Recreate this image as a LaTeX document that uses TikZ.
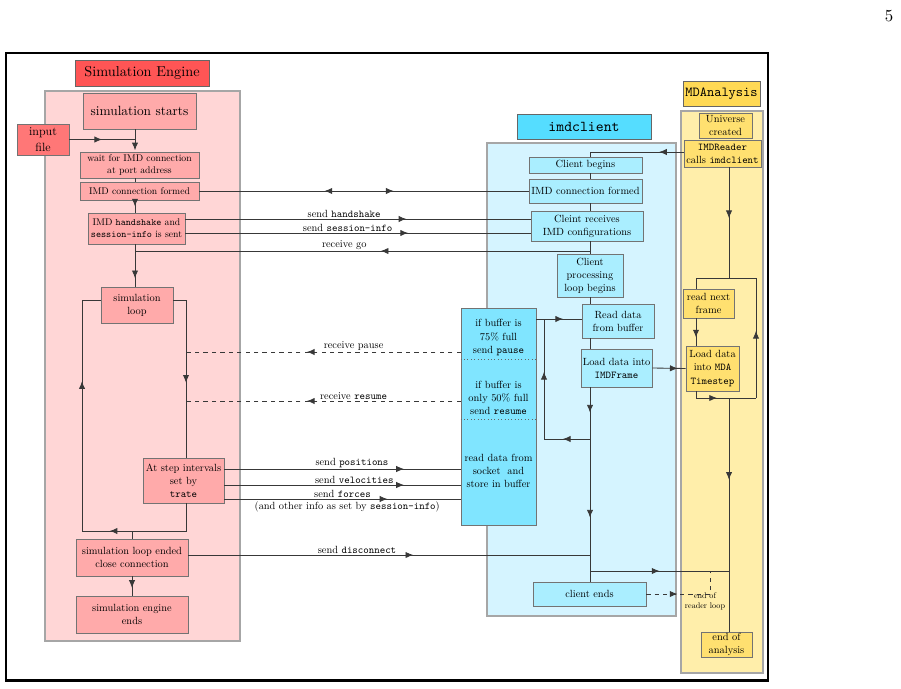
\documentclass[tikz,border=0pt]{standalone}
\usepackage{fontspec}
\setmainfont{lmroman10-regular.otf}[ItalicFont=lmroman10-italic.otf, BoldFont=lmroman10-bold.otf]
\setmonofont{lmmono10-regular.otf}
\usepackage{xcolor}
\usepackage{tikz}
\usetikzlibrary{arrows.meta, positioning, calc, decorations.markings}
\definecolor{simred}{RGB}{255, 85, 85}
\definecolor{simlight}{RGB}{255, 214, 214}
\definecolor{simpink}{RGB}{255, 170, 170}
\definecolor{inputred}{RGB}{255, 119, 119}
\definecolor{imdcyan}{RGB}{85, 221, 255}
\definecolor{imdlight}{RGB}{213, 244, 255}
\definecolor{imdpale}{RGB}{170, 238, 255}
\definecolor{bufcyan}{RGB}{128, 229, 255}
\definecolor{mdagold}{RGB}{255, 217, 85}
\definecolor{mdalight}{RGB}{255, 238, 170}
\definecolor{mdapale}{RGB}{255, 224, 112}
\newcommand{\nodefont}{\fontsize{7.4}{9.3}\selectfont}
\newcommand{\smallnodefont}{\fontsize{6.9}{8.5}\selectfont}

\begin{document}
\begin{tikzpicture}[x=0.25mm, y=-0.25mm,
    flowtip/.tip={Latex[length=5.5pt, width=4.5pt]},
    lane/.style={draw=black!35, line width=0.8pt, inner sep=0pt},
    head/.style={draw=black!60, inner sep=0pt, font=\fontsize{10.2}{12}\selectfont},
    simbox/.style={draw=black!55, fill=simpink, align=center, inner sep=0.5pt, font=\nodefont},
    imdbox/.style={draw=black!55, fill=imdpale, align=center, inner sep=0.5pt, font=\nodefont},
    mdabox/.style={draw=black!55, fill=mdapale, align=center, inner sep=0.5pt, font=\nodefont},
    buftext/.style={align=center, inner sep=0pt, font=\nodefont},
    lbl/.style={inner sep=0.7pt, font=\nodefont},
    flow/.style={draw=black!78, line width=0.6pt},
    midtip/.style={postaction={decorate}, decoration={markings,
        mark=at position #1 with {\pgfsetdash{}{0pt}\arrow{flowtip}}}},
    midtip/.default=0.5
]
    \useasboundingbox (0,0) rectangle (901,688);

    % lanes and headers
    \node[lane, fill=simlight, minimum width=48.75mm, minimum height=137.5mm] (simlane) at (142.5,366) {};
    \node[lane, fill=imdlight, minimum width=47.25mm, minimum height=118.25mm] (imdlane) at (581.5,379.5) {};
    \node[lane, fill=mdalight, minimum width=20.5mm, minimum height=140.5mm] (mdalane) at (722,392) {};

    \node[head, fill=simred, minimum width=33.5mm, minimum height=6.5mm] (simhead) at (142,73) {Simulation Engine};
    \node[head, fill=imdcyan, minimum width=33.5mm, minimum height=6.25mm,
          font=\fontsize{10.7}{12}\selectfont\ttfamily] (imdhead) at (584,126.5) {imdclient};
    \node[head, fill=mdagold, minimum width=19.25mm, minimum height=6.25mm,
          font=\fontsize{9.8}{12}\selectfont\ttfamily] (mdahead) at (721.5,93.5) {MDAnalysis};

    % simulation engine
    \node[simbox, minimum width=28.25mm, minimum height=9mm, font=\fontsize{9.5}{11}\selectfont] (start) at (139.5,111) {simulation starts};
    \node[simbox, fill=inputred, minimum width=13mm, minimum height=7.75mm,
          font=\fontsize{8.5}{11.4}\selectfont] (input) at (43,139.5) {input\\file};
    \node[simbox, minimum width=29.75mm, minimum height=6.5mm, font=\smallnodefont] (wait) at (139.5,165) {wait for IMD connection\\at port address};
    \node[simbox, minimum width=29.75mm, minimum height=4.5mm, font=\smallnodefont] (simconn) at (139.5,191) {IMD connection formed};
    \node[simbox, minimum width=24.25mm, minimum height=7.75mm, font=\smallnodefont] (handshake) at (136.5,228.5) {IMD \texttt{handshake} and\\\texttt{session-info} is sent};
    \node[simbox, minimum width=18mm, minimum height=9mm] (simloop) at (137,305) {simulation\\loop};
    \node[simbox, minimum width=20.25mm, minimum height=11.25mm] (stepint) at (183.5,480.5) {At step intervals\\set by\\\texttt{trate}};
    \node[simbox, minimum width=28mm, minimum height=9.25mm] (loopend) at (132,557.5) {simulation loop ended\\close connection};
    \node[simbox, minimum width=28mm, minimum height=9.25mm] (simend) at (132,614.5) {simulation engine\\ends};

    % imdclient
    \node[imdbox, minimum width=28.25mm, minimum height=4mm] (cbegin) at (585.5,165) {Client begins};
    \node[imdbox, minimum width=28.25mm, minimum height=6mm] (clientconn) at (585.5,191) {IMD connection formed};
    \node[imdbox, minimum width=28mm, minimum height=7.5mm] (creceive) at (587,226) {Cleint receives\\IMD configurations};
    \node[imdbox, minimum width=16.5mm, minimum height=10.75mm] (cloop) at (590,275.5) {Client\\processing\\loop begins};
    \node[imdbox, minimum width=18mm, minimum height=8.5mm] (readbuf) at (618,321) {Read data\\from buffer};
    \node[imdbox, minimum width=17.75mm, minimum height=9.5mm] (loadframe) at (616.5,368) {Load data into\\\texttt{IMDFrame}};
    \node[imdbox, minimum width=28.25mm, minimum height=6mm] (cends) at (589.5,594) {client ends};
    \node[imdbox, fill=bufcyan, minimum width=18.75mm, minimum height=54.25mm] (buffer) at (498.5,416.5) {};
    \node[buftext] (bufpause) at (498.5,337.5) {if buffer is\\75\% full\\send \texttt{pause}};
    \node[buftext] (bufresume) at (498.5,398) {if buffer is\\only 50\% full\\send \texttt{resume}};
    \node[buftext] (bufread) at (498.5,471) {read data from\\socket~ and\\store in buffer};

    % MDAnalysis
    \node[mdabox, minimum width=13.25mm, minimum height=6.25mm] (universe) at (725.5,125.5) {Universe\\created};
    \node[mdabox, minimum width=19.25mm, minimum height=6.75mm] (reader) at (722.5,153.5) {\texttt{IMDReader}\\calls \texttt{imdclient}};
    \node[mdabox, minimum width=12.75mm, minimum height=7.25mm] (readnext) at (708.5,303.5) {read next\\frame};
    \node[mdabox, minimum width=13.25mm, minimum height=11.25mm] (loadmda) at (712.5,368.5) {Load data\\into \texttt{MDA}\\\texttt{Timestep}};
    \node[mdabox, minimum width=12.75mm, minimum height=6.25mm] (analysisend) at (726.5,644.5) {end of\\analysis};
    \node[align=center, inner sep=0pt, font=\fontsize{5.8}{7}\selectfont] (readerend) at (705,601) {end of\\reader loop};

    % spines and corners
    \coordinate (simx) at (135,0);
    \coordinate (cx) at (590,0);
    \coordinate (bx) at (544,0);
    \coordinate (mx) at (729,0);
    \coordinate (dx) at (710,0);
    \coordinate (mleft) at (696,0);
    \coordinate (mright) at (756,0);
    \coordinate (loopL) at (82,300);
    \coordinate (loopR) at (186,300);
    \coordinate (loopBL) at (82,531);
    \coordinate (loopBR) at (186,531);
    \coordinate (topY) at (0,152);
    \coordinate (hsY) at (0,219);
    \coordinate (siY) at (0,233);
    \coordinate (goY) at (0,251);
    \coordinate (rdY) at (0,319);
    \coordinate (pauseY) at (0,352);
    \coordinate (sepA) at (0,359);
    \coordinate (resumeY) at (0,401);
    \coordinate (sepB) at (0,419);
    \coordinate (retY) at (0,439);
    \coordinate (posY) at (0,469);
    \coordinate (velY) at (0,485);
    \coordinate (forY) at (0,499);
    \coordinate (discY) at (0,555);
    \coordinate (endY) at (0,571);
    \coordinate (lpTopY) at (0,278);
    \coordinate (lpBotY) at (0,398);

    % simulation flow
    \draw[flow, midtip] (input.east) -- (input.east -| simx);
    \draw[flow, -flowtip, shorten >=1pt] (start.south -| simx) -- (wait.north -| simx);
    \draw[flow] (wait.south -| simx) -- (simconn.north -| simx);
    \draw[flow, midtip] (simconn.south -| simx) -- (handshake.north -| simx);
    \draw[flow, midtip=0.8] (handshake.south -| simx) -- (simloop.north -| simx);
    \draw[flow, midtip=0.6] (loopBL) -- (loopL) -- (loopL -| simloop.west);
    \draw[flow, midtip=0.56] (loopR -| simloop.east) -- (loopR) -- (stepint.north -| loopR);
    \draw[flow, midtip=0.79] (stepint.south -| loopR) -- (loopBR) -- (loopBL);
    \draw[flow] (loopBL -| loopend.north) -- (loopend.north);
    \draw[flow, midtip=0.6] (loopend.south) -- (simend.north);

    % messages between engine and client
    \draw[flow, postaction={decorate}, decoration={markings,
          mark=at position 0.38 with {\arrowreversed{flowtip}},
          mark=at position 0.59 with {\arrow{flowtip}}}] (simconn.east) -- (clientconn.west);
    \draw[flow, midtip=0.64] (handshake.east |- hsY) -- (creceive.west |- hsY)
        node[lbl, pos=0.46, above] (lhand) {send \texttt{handshake}};
    \draw[flow, midtip=0.645] (handshake.east |- siY) -- (creceive.west |- siY)
        node[lbl, pos=0.47, above] (lsession) {send \texttt{session-info}};
    \draw[flow, midtip=0.46] (goY -| cx) -- (goY -| simx)
        node[lbl, pos=0.54, above] (lgo) {receive go};
    \draw[flow, dashed, midtip=0.56] (buffer.west |- pauseY) -- (pauseY -| loopR)
        node[lbl, pos=0.39, above] (lpause) {receive pause};
    \draw[flow, dashed, midtip=0.56] (buffer.west |- resumeY) -- (resumeY -| loopR)
        node[lbl, pos=0.39, above] (lresume) {receive \texttt{resume}};
    \draw[flow, midtip=0.76] (stepint.east |- posY) -- (buffer.west |- posY)
        node[lbl, pos=0.54, above] (lpos) {send \texttt{positions}};
    \draw[flow, midtip=0.76] (stepint.east |- velY) -- (buffer.west |- velY)
        node[lbl, pos=0.55, above] (lvel) {send \texttt{velocities}};
    \draw[flow, midtip=0.69] (stepint.east |- forY) -- (buffer.west |- forY)
        node[lbl, pos=0.50, above] (lforce) {send \texttt{forces}}
        node[lbl, pos=0.52, below, yshift=-0.3mm] (lother) {(and other info as set by \texttt{session-info})};
    \draw[flow, midtip=0.56] (loopend.east |- discY) -- (discY -| cx)
        node[lbl, pos=0.42, above] (ldisc) {send \texttt{disconnect}};

    % client flow
    \draw[black!60, dotted] (buffer.west |- sepA) -- (buffer.east |- sepA);
    \draw[black!60, dotted] (buffer.west |- sepB) -- (buffer.east |- sepB);
    \draw[flow, midtip=0.25] (reader.west |- topY) -- (topY -| cx) -- (cbegin.north -| cx);
    \draw[flow] (cbegin.south -| cx) -- (clientconn.north -| cx);
    \draw[flow] (clientconn.south -| cx) -- (creceive.north -| cx);
    \draw[flow] (creceive.south -| cx) -- (cloop.north -| cx);
    \draw[flow] (cloop.south -| cx) -- (readbuf.north -| cx);
    \draw[flow] (readbuf.south -| cx) -- (loadframe.north -| cx);
    \draw[flow, postaction={decorate}, decoration={markings,
          mark=at position 0.13 with {\arrow{flowtip}},
          mark=at position 0.67 with {\arrow{flowtip}}}] (loadframe.south -| cx) -- (cends.north -| cx);
    \draw[flow, midtip=0.59] (retY -| cx) -- (retY -| bx);
    \draw[flow, midtip=0.56] (retY -| bx) -- (rdY -| bx);
    \draw[flow, midtip=0.59] (buffer.east |- rdY) -- (readbuf.west |- rdY);
    \draw[flow, midtip=0.76] (loadframe.east) -- (loadmda.west);
    \draw[flow, midtip=0.5] (endY -| cx) -- (endY -| mx);
    \draw[flow, dashed, midtip=0.36] (cends.east) -- (cends.east -| dx) -- (endY -| dx);

    % reader loop
    \draw[flow, midtip=0.46] (reader.south -| mx) -- (lpTopY -| mx);
    \draw[flow] (lpTopY -| mright) -- (lpTopY -| mleft) -- (readnext.north -| mleft);
    \draw[flow, midtip=0.7] (readnext.south -| mleft) -- (loadmda.north -| mleft);
    \draw[flow] (loadmda.south -| mleft) -- (lpBotY -| mleft);
    \draw[flow, midtip=0.35] (lpBotY -| mleft) -- (lpBotY -| mright);
    \draw[flow, midtip=0.56] (lpBotY -| mright) -- (lpTopY -| mright);
    \draw[flow, midtip=0.35] (lpBotY -| mx) -- (analysisend.north -| mx);

    % frame and page number
    \draw[line width=1.8pt] (6,53) rectangle (768,680.5);
    \node[font=\fontsize{12}{14}\selectfont] (pagenum) at (889,16) {5};
\end{tikzpicture}
\end{document}
